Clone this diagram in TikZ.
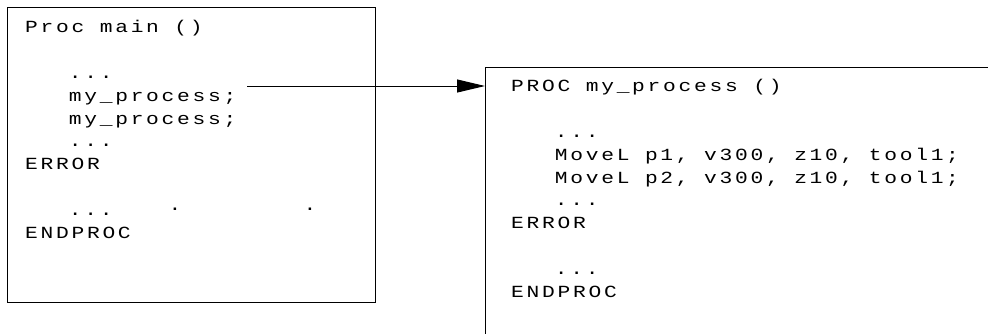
\documentclass[tikz,border=0pt]{standalone}
\usepackage{fontspec}
\newfontfamily\codefont[FakeStretch=1.25, LetterSpace=16]{Liberation Mono}
\usetikzlibrary{arrows.meta, positioning}

\begin{document}
\begin{tikzpicture}[
    x=1pt, y=-1pt,
    every node/.style={font=\codefont\fontsize{17}{22.8}\selectfont},
    frame/.style={draw, line width=1pt, inner sep=0pt, anchor=north west},
    code/.style={align=left, anchor=base west, inner sep=0pt},
    call/.style={line width=1pt, -{Triangle[length=28pt, width=13pt]}},
]
\useasboundingbox (0,0) rectangle (988,333);

% calling routine
\node[frame, minimum width=368pt, minimum height=295pt] (mainBox) at (7,7) {};
\node[code] (mainCode) at (25,238)
    {Proc main ()\\
     \mbox{}\\
     \phantom{xxx}...\\
     \phantom{xxx}my\_process;\\
     \phantom{xxx}my\_process;\\
     \phantom{xxx}...\\
     ERROR\\
     \mbox{}\\
     \phantom{xxx}...\\
     ENDPROC};
\node[inner sep=0pt, anchor=base] (dotA) at (175,210) {.};
\node[inner sep=0pt, anchor=base] (dotB) at (310,210) {.};

% called routine (box runs past the page edge)
\node[frame, minimum width=600pt, minimum height=400pt] (procBox) at (485,67) {};
\node[code] (procCode) at (511,297)
    {PROC my\_process ()\\
     \mbox{}\\
     \phantom{xxx}...\\
     \phantom{xxx}MoveL p1, v300, z10, tool1;\\
     \phantom{xxx}MoveL p2, v300, z10, tool1;\\
     \phantom{xxx}...\\
     ERROR\\
     \mbox{}\\
     \phantom{xxx}...\\
     ENDPROC};

\coordinate (callPt) at (247,86);
\draw[call] (callPt) -- (callPt -| procBox.west);
\end{tikzpicture}
\end{document}
